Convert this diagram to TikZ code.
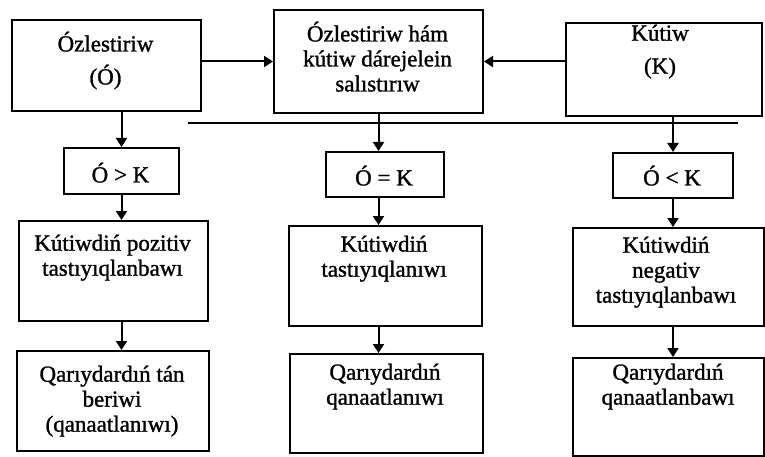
\documentclass[tikz,border=0pt]{standalone}
\usepackage{fontspec}
\setmainfont{Liberation Serif}[FakeBold=1.2]
\usetikzlibrary{arrows.meta}
\begin{document}
\begin{tikzpicture}[x=1pt,y=-1pt,
  box/.style={draw, line width=2pt, inner sep=0pt, anchor=north west},
  txt/.style={align=center, inner sep=0pt, anchor=north,
    font=\fontsize{23}{25}\selectfont, execute at begin node=\strut},
  arr/.style={line width=2pt, -{Triangle[length=9pt,width=11pt]}},
  rule/.style={line width=2pt}]
\useasboundingbox (0,0) rectangle (765,457);

% top row
\node[box, minimum width=189pt, minimum height=91pt]  (O) at (11,19)  {};
\node[box, minimum width=209pt, minimum height=103pt] (C) at (273,9)  {};
\node[box, minimum width=196pt, minimum height=93pt]  (K) at (565,22) {};
\node[txt] (Ot) at (105.5,31.5) {Ózlestiriw\\[8pt](Ó)};
\node[txt] (Ct) at (377.5,21.5) {Ózlestiriw hám\\kútiw dárejelein\\salıstırıw};
\node[txt] (Kt) at (660,24.5)   {Kútiw\\[8pt](K)};

% comparison row
\node[box, minimum width=115pt, minimum height=46pt] (g) at (63,147)  {};
\node[box, minimum width=118pt, minimum height=45pt] (e) at (325,151) {};
\node[box, minimum width=120pt, minimum height=45pt] (l) at (612,152) {};
\node[txt] (gt) at (120.5,162.5) {Ó > K};
\node[txt] (et) at (384,165.5)   {Ó = K};
\node[txt] (lt) at (672,165.5)   {Ó < K};

% expectation row
\node[box, minimum width=189pt, minimum height=100pt] (p1) at (18,220)  {};
\node[box, minimum width=193pt, minimum height=100pt] (p2) at (288,225) {};
\node[box, minimum width=191pt, minimum height=98pt]  (p3) at (572,227) {};
\node[txt] (p1t) at (112.5,234.5) {Kútiwdiń pozitiv\\tastıyıqlanbawı};
\node[txt] (p2t) at (384,235.5)   {Kútiwdiń\\tastıyıqlanıwı};
\node[txt] (p3t) at (666,236.5)   {Kútiwdiń\\negativ\\tastıyıqlanbawı};

% customer row
\node[box, minimum width=192pt, minimum height=100pt] (q1) at (16,350)  {};
\node[box, minimum width=193pt, minimum height=99pt]  (q2) at (289,353) {};
\node[box, minimum width=191pt, minimum height=98pt]  (q3) at (572,357) {};
\node[txt] (q1t) at (112,365.5) {Qarıydardıń tán\\beriwi\\(qanaatlanıwı)};
\node[txt] (q2t) at (385,363.5) {Qarıydardıń\\qanaatlanıwı};
\node[txt] (q3t) at (668,363.5) {Qarıydardıń\\qanaatlanbawı};

% inputs into the comparison
\draw[arr] (O.east |- C.west) -- (C.west);
\draw[arr] (K.west |- C.east) -- (C.east);

% dividing rule under the top row
\coordinate (h1) at (188,123);
\coordinate (h2) at (738,123);
\draw[rule] (h1) -- (h2);

% left column
\draw[arr] (O.south -| g.north) -- (g.north);
\draw[arr] (g.south) -- (p1.north -| g.south);
\draw[arr] (p1.south -| g.south) -- (q1.north -| g.south);

% middle column
\draw[arr] (C.south) -- (e.north -| C.south);
\draw[arr] (e.south -| C.south) -- (p2.north -| C.south);
\draw[arr] (p2.south -| C.south) -- (q2.north -| C.south);

% right column
\draw[arr] (K.south -| l.north) -- (l.north);
\draw[arr] (l.south) -- (p3.north -| l.south);
\draw[arr] (p3.south -| l.south) -- (q3.north -| l.south);
\end{tikzpicture}
\end{document}
